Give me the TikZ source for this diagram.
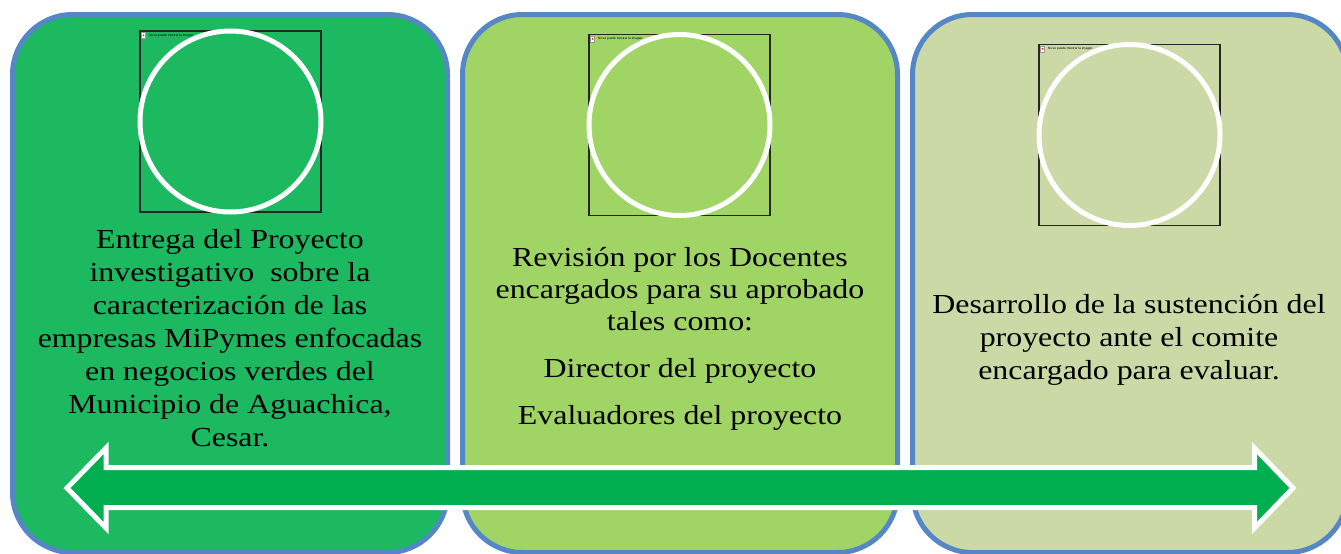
\documentclass[tikz,border=0pt]{standalone}
\usepackage{fontspec}
\setmainfont{Liberation Serif}
\newfontfamily\txtfont[FakeStretch=1.16]{Liberation Serif}
\newfontfamily\tinyfont{Liberation Sans}
\definecolor{pone}{HTML}{1CB961}
\definecolor{ptwo}{HTML}{A0D465}
\definecolor{pthree}{HTML}{CAD9A6}
\definecolor{pborder}{HTML}{5586C5}
\definecolor{arrowgreen}{HTML}{00AE4F}
\tikzset{
  panel/.style={draw=pborder, line width=5pt, rounded corners=60pt, minimum width=435pt, minimum height=538pt, inner sep=0pt},
  imgbox/.style={draw=black!85, line width=1.2pt, minimum width=181pt, minimum height=181pt, inner sep=0pt},
  ring/.style={draw=white, line width=5pt, circle, minimum size=181pt, inner sep=0pt},
  icon/.style={draw=black!40, fill=white, line width=0.3pt, minimum width=4pt, minimum height=6pt, inner sep=0pt},
  tinytext/.style={font=\tinyfont\fontsize{3.2}{3.2}\selectfont, anchor=west, inner sep=0pt},
  body/.style={font=\txtfont\fontsize{27.5}{33}\selectfont, align=center, inner sep=0pt, anchor=north},
  bigarrow/.style={draw=white, line width=5pt, fill=arrowgreen, line join=miter}
}
\begin{document}
\begin{tikzpicture}[x=1pt,y=-1pt]
\useasboundingbox (0,0) rectangle (1341,554);
\clip (0,0) rectangle (1341,554);
% panels
\node[panel, fill=pone]   (p1) at (230,283.5)  {};
\node[panel, fill=ptwo]   (p2) at (680,283.5)  {};
\node[panel, fill=pthree] (p3) at (1130,283.5) {};
% picture frames
\node[imgbox] (b1) at (230.5,121.5) {};
\node[imgbox] (b2) at (679.5,125)   {};
\node[imgbox] (b3) at (1129.5,135)  {};
% broken-image icons and messages
\node[icon] (i1) at ([xshift=4pt,yshift=-5pt]b1.north west) {};
\node[icon] (i2) at ([xshift=4pt,yshift=-5pt]b2.north west) {};
\node[icon] (i3) at ([xshift=4pt,yshift=-5pt]b3.north west) {};
\fill[red] (i1.center) circle (0.9pt);
\fill[red] (i2.center) circle (0.9pt);
\fill[red] (i3.center) circle (0.9pt);
\node[tinytext] (m1) at ([xshift=3pt]i1.east) {No se puede mostrar la imagen.};
\node[tinytext] (m2) at ([xshift=3pt]i2.east) {No se puede mostrar la imagen.};
\node[tinytext] (m3) at ([xshift=3pt]i3.east) {No se puede mostrar la imagen.};
% rings
\node[ring] (c1) at (b1.center) {};
\node[ring] (c2) at (b2.center) {};
\node[ring] (c3) at (b3.center) {};
% texts
\node[body] (t1) at (230,229.5) {Entrega del Proyecto\\investigativo\ \ sobre la\\caracterización de las\\empresas MiPymes enfocadas\\en negocios verdes del\\Municipio de Aguachica,\\Cesar.};
\node[body, font=\txtfont\fontsize{27.5}{32}\selectfont] (t2) at (680,247.5) {Revisión por los Docentes\\encargados para su aprobado\\tales como:\\[15pt]Director del proyecto\\[15pt]Evaluadores del proyecto};
\node[body] (t3) at (1129,294.5) {Desarrollo de la sustención del\\proyecto ante el comite\\encargado para evaluar.};
% double arrow
\coordinate (ltip) at (67,488);
\coordinate (rtip) at (1293,488);
\draw[bigarrow] (ltip) -- (106,448) -- (106,467.5) -- (1254.5,467.5) -- (1254.5,448)
  -- (rtip) -- (1254.5,528) -- (1254.5,507.5) -- (106,507.5) -- (106,528) -- cycle;
\end{tikzpicture}
\end{document}
